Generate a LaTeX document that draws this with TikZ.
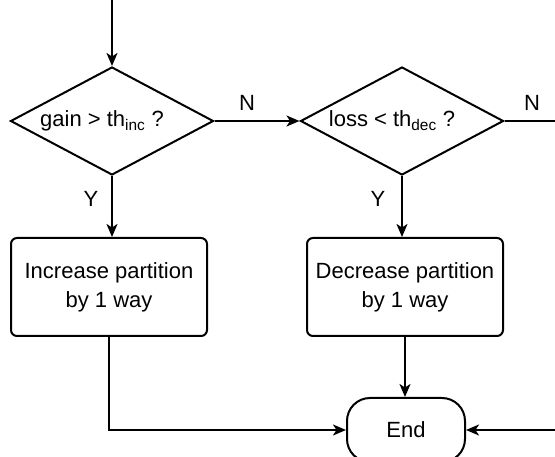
\documentclass[tikz,border=0pt]{standalone}
\usepackage{fontspec}
\setmainfont{Liberation Sans}
\usetikzlibrary{shapes.geometric,arrows.meta}
\begin{document}
\begin{tikzpicture}[x=1pt,y=-1pt,
  every node/.style={font=\fontsize{22}{29}\selectfont, inner sep=0pt},
  flow/.style={line width=2pt, -{Stealth[length=13pt,width=11pt,inset=3.5pt]}},
  plain/.style={line width=2pt},
  decision/.style={draw, line width=2pt, diamond, aspect=1.88,
    minimum width=203pt, minimum height=108pt},
  process/.style={draw, line width=2pt, rounded corners=6pt,
    minimum width=196pt, minimum height=98pt, align=center},
  terminal/.style={draw, line width=2pt, rounded corners=23pt,
    minimum width=118pt, minimum height=64pt},
  lbl/.style={}]
\useasboundingbox (0,0) rectangle (555,457);
\clip (0,0) rectangle (555,457);

% decisions
\node[decision] (d1) at (112,121) {gain > th\textsubscript{inc} ?\hspace*{20pt}};
\node[decision] (d2) at (402,121) {loss < th\textsubscript{dec} ?\hspace*{20pt}};

% actions
\node[process] (b1) at (109,287) {Increase partition\\by 1 way};
\node[process] (b2) at (405,287) {Decrease partition\\by 1 way};

% end
\node[terminal] (e) at (406,430) {End};

% free ends
\coordinate (in) at (112,0);
\coordinate (outN) at (555,121);
\coordinate (inR) at (555,430);

% connectors
\draw[flow] (in) -- (d1.north);
\draw[flow] (d1.east) -- (d2.west);
\draw[plain] (d2.east) -- (outN);
\draw[flow] (d1.south) -- (d1.south |- b1.north);
\draw[flow] (d2.south) -- (d2.south |- b2.north);
\draw[flow] (b2.south) -- (b2.south |- e.north);
\draw[flow] (b1.south) |- (e.west);
\draw[flow] (inR) -- (e.east);

% branch labels
\node[lbl] (n1) at (247,103) {N};
\node[lbl] (n2) at (532,103) {N};
\node[lbl] (y1) at (91,199) {Y};
\node[lbl] (y2) at (378,199) {Y};
\end{tikzpicture}
\end{document}
